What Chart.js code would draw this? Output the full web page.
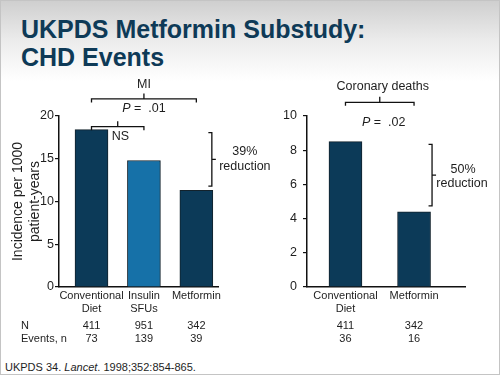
<!DOCTYPE html>
<html>
<head>
<meta charset="utf-8">
<script src="https://cdn.jsdelivr.net/npm/chart.js@4"></script>
<style>
  html, body { margin: 0; padding: 0; }
  body { width: 500px; height: 375px; overflow: hidden; }
  #slide {
    position: relative; width: 500px; height: 375px; box-sizing: border-box;
    border: 1px solid #c4c4c4;
    background: linear-gradient(to bottom, #cfcfcf 0px, #ececec 40px, #ffffff 80px, #ffffff 100%);
    font-family: "Liberation Sans", Arial, sans-serif; color: #1e1e1e;
  }
  #title {
    position: absolute; left: 20px; top: 14px; margin: 0;
    font-size: 25px; line-height: 28px; font-weight: bold; color: #0e3a57;
  }
  #note { position: absolute; left: 4px; top: 360px; font-size: 11px; line-height: 13px; }
  canvas { position: absolute; top: 69px; }
  #leftChart { left: -1px; }
  #rightChart { left: 279px; }
</style>
</head>
<body>
<div id="slide">
  <h1 id="title">UKPDS Metformin Substudy:<br>CHD Events</h1>
  <canvas id="leftChart" width="280" height="280"></canvas>
  <canvas id="rightChart" width="220" height="280"></canvas>
  <div id="note">UKPDS 34. <i>Lancet</i>. 1998;352:854-865.</div>
</div>
<script>
// MI panel
const leftCategories = [['Conventional', 'Diet'], ['Insulin', 'SFUs'], ['Metformin']];
const leftValues = [18.4, 14.8, 11.3];
const leftColors = ['#0c3a58', '#1671a8', '#0c3a58'];
const leftYTicks = [0, 5, 10, 15, 20];
const leftN = [411, 951, 342];
const leftEvents = [73, 139, 39];

// Coronary deaths panel
const rightCategories = [['Conventional', 'Diet'], ['Metformin']];
const rightValues = [8.5, 4.4];
const rightColors = ['#0c3a58', '#0c3a58'];
const rightYTicks = [0, 2, 4, 6, 8, 10];
const rightN = [411, 342];
const rightEvents = [36, 16];

const FONT = '"Liberation Sans", Arial, sans-serif';
const INK = '#1e1e1e';

Chart.defaults.font.family = FONT;
Chart.defaults.color = INK;

function richText(ctx, parts, cx, cy, size, align) {
    let w = 0;
    parts.forEach(p => {
        ctx.font = (p.i ? 'italic ' : '') + size + 'px ' + FONT;
        p.w = ctx.measureText(p.t).width;
        w += p.w;
    });
    let x = align === 'left' ? cx : cx - w / 2;
    ctx.textAlign = 'left';
    ctx.textBaseline = 'middle';
    parts.forEach(p => {
        ctx.font = (p.i ? 'italic ' : '') + size + 'px ' + FONT;
        ctx.fillText(p.t, x, cy);
        x += p.w;
    });
}

// brackets, p-values and the N / events rows under the axis
const bracketPlugin = {
    id: 'brackets',
    afterDraw(chart, args, opts) {
        const { ctx } = chart;
        const xs = chart.scales.x, ys = chart.scales.y;
        ctx.save();
        ctx.strokeStyle = '#111';
        ctx.fillStyle = INK;
        ctx.lineWidth = 1.3;

        (opts.spans || []).forEach(s => {
            const x1 = xs.getPixelForValue(s.from);
            const x2 = xs.getPixelForValue(s.to);
            const y = ys.getPixelForValue(s.level);
            const xm = (x1 + x2) / 2;
            ctx.beginPath();
            ctx.moveTo(x1, y + 3.5); ctx.lineTo(x1, y); ctx.lineTo(x2, y); ctx.lineTo(x2, y + 3.5);
            ctx.moveTo(xm, y); ctx.lineTo(xm, y - 5.5);
            ctx.stroke();
            (s.texts || []).forEach(t => richText(ctx, t.parts, xm + t.dx, y + t.dy, 12.5, t.align));
        });

        (opts.drops || []).forEach(d => {
            const x = xs.getPixelForValue(d.at) + d.dx;
            const y1 = ys.getPixelForValue(d.from);
            const y2 = ys.getPixelForValue(d.to);
            const ym = (y1 + y2) / 2;
            ctx.beginPath();
            ctx.moveTo(x - 3.5, y1); ctx.lineTo(x, y1); ctx.lineTo(x, y2); ctx.lineTo(x - 3.5, y2);
            ctx.moveTo(x, ym); ctx.lineTo(x + 4, ym);
            ctx.stroke();
            d.texts.forEach(t => richText(ctx, [{ t: t.t }], x + t.dx, ym + t.dy, 12.5));
        });

        if (opts.rows) {
            const r = opts.rows;
            ctx.font = '11px ' + FONT;
            ctx.textBaseline = 'middle';
            if (r.names) {
                ctx.textAlign = 'left';
                ctx.fillText('N', 21, 256);
                ctx.fillText('Events, n', 21, 269.3);
            }
            ctx.textAlign = 'center';
            r.n.forEach((v, i) => ctx.fillText(String(v), xs.getPixelForValue(i + 1), 256));
            r.events.forEach((v, i) => ctx.fillText(String(v), xs.getPixelForValue(i + 1), 269.3));
        }
        ctx.restore();
    }
};

function makePanel(id, cats, values, colors, yTicks, xMin, xMax, yWidth, padRight, yPad, yTitle, plugOpts) {
    const ctx = document.getElementById(id).getContext('2d');
    return new Chart(ctx, {
        type: 'bar',
        data: {
            datasets: [{
                data: values.map((v, i) => ({ x: i + 1, y: v })),
                backgroundColor: colors,
                borderColor: '#13222c',
                borderWidth: 1,
                barThickness: 33
            }]
        },
        options: {
            responsive: false,
            animation: false,
            layout: { padding: { top: 46, right: padRight, bottom: 30, left: 0 } },
            plugins: { legend: { display: false }, tooltip: { enabled: false }, brackets: plugOpts },
            scales: {
                x: {
                    type: 'linear', min: xMin, max: xMax, offset: false,
                    afterBuildTicks: s => { s.ticks = cats.map((c, i) => ({ value: i + 1 })); },
                    afterFit: s => { s.height = 33; },
                    grid: { display: true, drawOnChartArea: false, drawTicks: false },
                    border: { display: true, color: '#111', width: 1.5 },
                    ticks: {
                        autoSkip: false, maxRotation: 0, padding: 2,
                        font: { size: 11, lineHeight: 1.2 }, color: INK,
                        callback: v => cats[Math.round(v) - 1]
                    }
                },
                y: {
                    min: 0, max: yTicks[yTicks.length - 1],
                    afterBuildTicks: s => { s.ticks = yTicks.map(v => ({ value: v })); },
                    afterFit: s => { s.width = yWidth; },
                    grid: { drawOnChartArea: false, drawTicks: true, tickLength: 4, color: '#111', lineWidth: 1.2 },
                    border: { display: true, color: '#111', width: 1.5 },
                    ticks: { padding: yPad, font: { size: 12.5 }, color: INK },
                    title: yTitle
                }
            }
        },
        plugins: [bracketPlugin]
    });
}

makePanel('leftChart', leftCategories, leftValues, leftColors, leftYTicks, 0.38, 3.413, 59, 62, 1, {
    display: true,
    text: ['Incidence per 1000', 'patient-years'],
    font: { size: 14, lineHeight: 1.2 },
    color: INK,
    padding: { top: 10, bottom: 0 }
}, {
    spans: [
        { from: 1, to: 3, level: 22, texts: [
            { parts: [{ t: 'MI' }], dx: 0, dy: -14 },
            { parts: [{ t: 'P', i: true }, { t: ' =  .01' }], dx: 0, dy: 9.5 }
        ] },
        { from: 1, to: 2, level: 18.75, texts: [
            { parts: [{ t: 'NS' }], dx: -6, dy: 9.5, align: 'left' }
        ] }
    ],
    drops: [
        { at: 3, dx: 15.5, from: 18.05, to: 11.8, texts: [{ t: '39%', dx: 33, dy: -7.5 }, { t: 'reduction', dx: 33, dy: 7.5 }] }
    ],
    rows: { names: true, n: leftN, events: leftEvents }
});

makePanel('rightChart', rightCategories, rightValues, rightColors, rightYTicks, 0.439, 2.743, 27, 35, 6, { display: false }, {
    spans: [
        { from: 1, to: 2, level: 10.8, texts: [
            { parts: [{ t: 'Coronary deaths' }], dx: 3, dy: -16 },
            { parts: [{ t: 'P', i: true }, { t: ' =  .02' }], dx: 4, dy: 20.4 }
        ] }
    ],
    drops: [
        { at: 2, dx: 18, from: 8.34, to: 4.74, texts: [{ t: '50%', dx: 31, dy: -5.5 }, { t: 'reduction', dx: 30, dy: 8.5 }] }
    ],
    rows: { names: false, n: rightN, events: rightEvents }
});
</script>
</body>
</html>
